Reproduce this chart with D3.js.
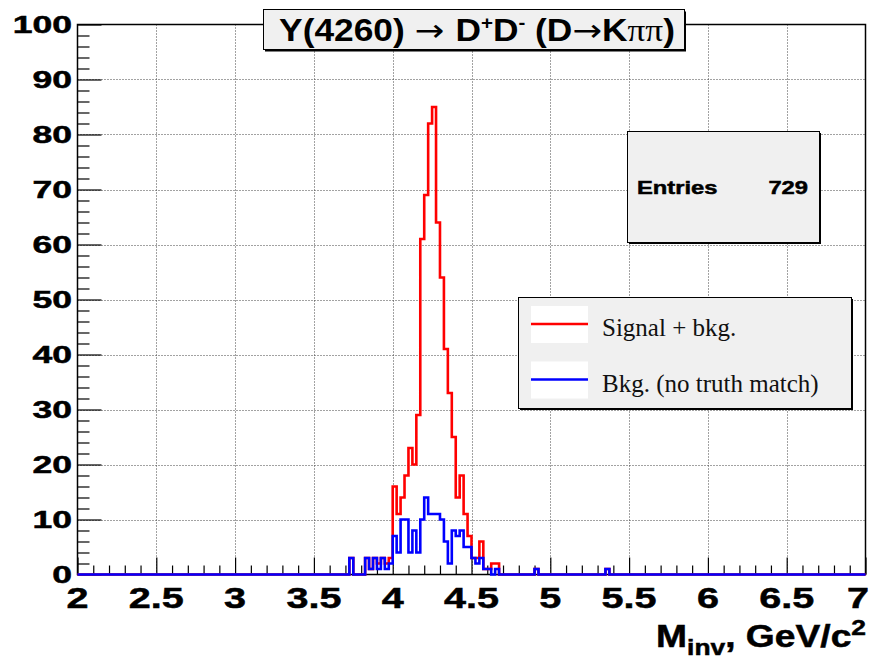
<!DOCTYPE html>
<html><head><meta charset="utf-8">
<script src="https://cdn.jsdelivr.net/npm/d3@7"></script>
<style>body{margin:0;background:#fff} svg{display:block}</style>
</head><body>
<svg id="c" width="874" height="663"></svg>
<script>
// ---------------- data ----------------
const binStart = 2.0, binWidth = 0.025, nBins = 200;
// non-empty bins: low edge (GeV/c^2) and count
const signalLow   = [3.725,3.825,3.85,3.875,3.9,3.925,3.95,3.975,
  4.0,4.025,4.05,4.075,4.1,4.125,4.15,4.175,4.2,4.225,4.25,4.275,4.3,4.325,4.35,4.375,
  4.4,4.425,4.45,4.475,4.5,4.525,4.55,4.575,4.6,4.625,4.65,4.9,5.35];
const signalCount = [3,3,1,3,2,3,2,3,
  16,11,14,18,23,20,29,61,69,82,85,64,54,41,33,25,
  14,18,11,7,3,3,6,1,1,2,2,1,1];
const bkgLow   = [3.725,3.825,3.85,3.875,3.9,3.925,3.95,3.975,
  4.0,4.025,4.05,4.075,4.1,4.125,4.15,4.175,4.2,4.225,4.25,4.275,4.3,4.325,4.35,4.375,
  4.4,4.425,4.45,4.475,4.5,4.525,4.55,4.575,4.6,4.65,4.9,5.35];
const bkgCount = [3,3,1,3,1,3,1,2,
  7,4,10,10,4,8,4,10,14,11,11,11,10,6,2,8,
  7,8,5,5,3,2,3,1,1,1,1,1];
const xTicks = [2,2.5,3,3.5,4,4.5,5,5.5,6,6.5,7];
const xTickLabels = ["2","2.5","3","3.5","4","4.5","5","5.5","6","6.5","7"];
const yTicks = [0,10,20,30,40,50,60,70,80,90,100];
const yTickLabels = ["0","10","20","30","40","50","60","70","80","90","100"];
const legendLabels = ["Signal + bkg.","Bkg. (no truth match)"];
const legendColors = ["#ff0000","#0000ff"];
const statsLabel = "Entries", statsValue = "729";

// ---------------- setup ----------------
const svg = d3.select("#c");
const x = d3.scaleLinear().domain([2,7]).range([77.5,865.5]);
const y = d3.scaleLinear().domain([0,100]).range([574.5,24.5]);

function fullBins(lows, counts){
  const arr = new Array(nBins).fill(0);
  lows.forEach((l,i)=>{ const k = Math.round((l-binStart)/binWidth); arr[k] = counts[i]; });
  return arr;
}
function stepPath(arr){
  let p = `M${x(binStart)},${y(arr[0])}`;
  arr.forEach((c,i)=>{
    const lo = binStart + i*binWidth, hi = lo + binWidth;
    p += `L${x(lo)},${y(c)}L${x(hi)},${y(c)}`;
  });
  return p;
}
// stretched bold text helper
function sText(parent, tx, ty, str, size, sx, anchor, family){
  const g = parent.append("g").attr("transform",`translate(${tx},${ty}) scale(${sx},1)`);
  return g.append("text").attr("x",0).attr("y",0).attr("text-anchor",anchor||"start")
    .attr("font-family",family||"'Liberation Sans', Arial, Helvetica, sans-serif")
    .attr("font-weight","bold").attr("font-size",size)
    .attr("stroke","#000").attr("stroke-width",0.5).text(str);
}

// ---------------- grid ----------------
const grid = svg.append("g").attr("stroke","#444").attr("stroke-width",1).attr("stroke-dasharray","1,2");
xTicks.slice(1,-1).forEach(v=>grid.append("line").attr("x1",Math.round(x(v))+0.5).attr("x2",Math.round(x(v))+0.5).attr("y1",y(100)).attr("y2",y(0)));
yTicks.slice(1,-1).forEach(v=>grid.append("line").attr("y1",Math.round(y(v))+0.5).attr("y2",Math.round(y(v))+0.5).attr("x1",x(2)).attr("x2",x(7)));

// ---------------- axes (ticks drawn inside, ROOT style) ----------------
const xAxisMajor = d3.axisTop(x).tickValues(xTicks).tickSize(17).tickFormat("");
const xAxisMinor = d3.axisTop(x).tickValues(d3.range(2,7.0001,0.1).filter(v=>Math.abs(v*2-Math.round(v*2))>1e-6)).tickSize(9).tickFormat("");
const yAxisMajor = d3.axisRight(y).tickValues(yTicks).tickSize(24).tickFormat("");
const yAxisMinor = d3.axisRight(y).tickValues(d3.range(0,100.001,2).filter(v=>v%10!==0)).tickSize(12).tickFormat("");
[ [xAxisMajor,`translate(0,${y(0)})`],[xAxisMinor,`translate(0,${y(0)})`],
  [yAxisMajor,`translate(${x(2)},0)`],[yAxisMinor,`translate(${x(2)},0)`] ].forEach(([ax,tr])=>{
  const g = svg.append("g").attr("transform",tr).call(ax);
  g.select(".domain").remove();
  g.selectAll("line").attr("stroke","#000").attr("stroke-width",1.2);
});
svg.append("rect").attr("x",x(2)).attr("y",y(100)).attr("width",x(7)-x(2)).attr("height",y(0)-y(100))
  .attr("fill","none").attr("stroke","#000").attr("stroke-width",1.5);

// tick labels (last one kept inside the window, as in the reference)
xTicks.forEach((v,i)=>sText(svg, Math.min(x(v), 858), 607.5, xTickLabels[i], 30, 1.32, "middle"));
yTicks.forEach((v,i)=>sText(svg, 72, y(v)+8.5, yTickLabels[i], 24, 1.48, "end"));

// axis title
{
  const g = svg.append("g").attr("transform","translate(866,647) scale(1.2,1)");
  const t = g.append("text").attr("text-anchor","end").attr("font-family","'Liberation Sans', Arial, sans-serif")
    .attr("font-weight","bold").attr("font-size",31).attr("stroke","#000").attr("stroke-width",0.5);
  t.append("tspan").text("M");
  t.append("tspan").attr("font-size",22).attr("dy",8).text("inv");
  t.append("tspan").attr("dy",-8).text(", GeV/c");
  t.append("tspan").attr("font-size",22).attr("dy",-12).text("2");
}

// ---------------- histograms ----------------
svg.append("path").attr("d",stepPath(fullBins(signalLow,signalCount)))
  .attr("fill","none").attr("stroke","#ff0000").attr("stroke-width",2.6);
svg.append("path").attr("d",stepPath(fullBins(bkgLow,bkgCount)))
  .attr("fill","none").attr("stroke","#0000ff").attr("stroke-width",2.6);

// ---------------- stats box ----------------
svg.append("rect").attr("x",629).attr("y",133).attr("width",192).attr("height",111).attr("fill","#000");
svg.append("rect").attr("x",627.5).attr("y",131.5).attr("width",192).attr("height",111).attr("fill","#f0f0f0").attr("stroke","#000");
sText(svg, 637, 194, statsLabel, 19, 1.25, "start");
sText(svg, 808, 194, statsValue, 19, 1.25, "end");

// ---------------- legend ----------------
svg.append("rect").attr("x",520).attr("y",299).attr("width",333).attr("height",111).attr("fill","#000");
svg.append("rect").attr("x",518.5).attr("y",297.5).attr("width",333).attr("height",111).attr("fill","#f0f0f0").attr("stroke","#000");
legendLabels.forEach((lab,i)=>{
  const cy = [324,379.5][i];
  svg.append("rect").attr("x",531).attr("y",cy-18).attr("width",57).attr("height",37).attr("fill","#fff");
  svg.append("line").attr("x1",531).attr("x2",588).attr("y1",cy).attr("y2",cy).attr("stroke",legendColors[i]).attr("stroke-width",2.5);
  svg.append("text").attr("x",602).attr("y",cy+12).attr("font-family","'Liberation Serif','Times New Roman',serif")
    .attr("font-size",25).attr("fill","#111").text(lab);
});

// ---------------- title ----------------
svg.append("rect").attr("x",265).attr("y",11.5).attr("width",421).attr("height",40).attr("fill","#000");
svg.append("rect").attr("x",263.5).attr("y",9.5).attr("width",421).attr("height",40).attr("fill","#f0f0f0").attr("stroke","#000");
{
  const g = svg.append("g").attr("transform","translate(474,41)");
  const t = g.append("text").attr("text-anchor","middle").attr("font-family","'Liberation Sans', Arial, sans-serif")
    .attr("font-weight","bold").attr("font-size",31);
  t.append("tspan").text("Y(4260) ");
  t.append("tspan").attr("font-weight","normal").attr("font-family","'DejaVu Sans',sans-serif").text(" \u2192 ");
  t.append("tspan").text("D");
  t.append("tspan").attr("font-size",18).attr("dy",-12).text("+");
  t.append("tspan").attr("dy",12).text("D");
  t.append("tspan").attr("font-size",18).attr("dy",-12).text("-");
  t.append("tspan").attr("dy",12).text(" (D");
  t.append("tspan").attr("font-weight","normal").attr("font-family","'DejaVu Sans',sans-serif").text("\u2192");
  t.append("tspan").text("K");
  t.append("tspan").attr("font-weight","normal").attr("font-family","'Liberation Serif',serif").text("\u03c0\u03c0");
  t.append("tspan").text(")");
  const w = t.node().getComputedTextLength();
  g.attr("transform",`translate(477,41) scale(${396/w},1)`);
}
</script>
</body></html>
